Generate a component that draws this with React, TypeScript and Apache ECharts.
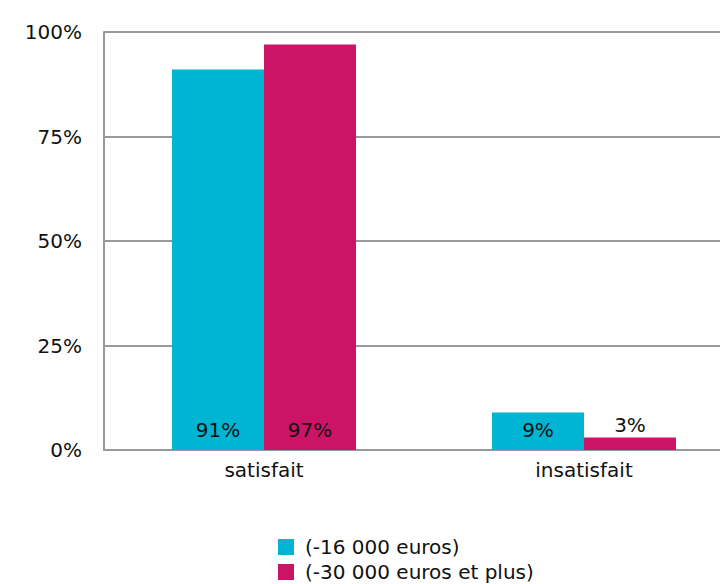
import React, { useEffect, useRef } from "react";
import * as echarts from "echarts";

const categories = ["satisfait", "insatisfait"];
const seriesNames = ["(-16 000 euros)", "(-30 000 euros et plus)"];
const lowIncome = [91, 9];
const highIncome = [97, 3];
const yTicks = [0, 25, 50, 75, 100];

const FONT = "'DejaVu Sans', sans-serif";

export default function App() {
  const ref = useRef<HTMLDivElement>(null);
  useEffect(() => {
    document.documentElement.style.overflow = "hidden";
    document.body.style.overflow = "hidden";
    document.body.style.marginRight = "0px";
    if (!ref.current) return;
    const chart = echarts.init(ref.current, undefined, { renderer: "svg" });
    const labelFor = (vals: number[], small: boolean[]) =>
      vals.map((v, i) => ({
        value: v,
        label: small[i]
          ? { position: "top", distance: 2 }
          : { position: "insideBottom", distance: 10 },
      }));
    chart.setOption({
      animation: false,
      textStyle: { fontFamily: FONT },
      grid: { left: 96, top: 24, right: 24, bottom: 134, containLabel: false },
      legend: {
        orient: "vertical",
        left: 270,
        top: 529,
        padding: 0,
        itemWidth: 16,
        itemHeight: 16,
        itemGap: 5,
        icon: "rect",
        textStyle: {
          fontSize: 20,
          color: "#111",
          fontFamily: FONT,
          padding: [0, 0, 0, 6],
        },
        data: seriesNames,
      },
      xAxis: {
        type: "category",
        data: categories,
        axisLine: { show: true, lineStyle: { color: "#999", width: 2 } },
        axisTick: { show: false },
        axisLabel: { fontSize: 20, color: "#111", margin: 10, fontFamily: FONT },
      },
      yAxis: {
        type: "value",
        min: 0,
        max: 100,
        interval: 25,
        axisLine: { show: true, lineStyle: { color: "#999", width: 2 } },
        axisTick: { show: false },
        splitLine: { show: true, lineStyle: { color: "#999", width: 2 } },
        axisLabel: {
          fontSize: 20,
          color: "#111",
          margin: 22,
          fontFamily: FONT,
          formatter: (v: number) => (yTicks.includes(v) ? v + "%" : ""),
        },
      },
      series: [
        {
          name: seriesNames[0],
          type: "bar",
          data: labelFor(lowIncome, [false, false]),
          barGap: "0%",
          barCategoryGap: "42.5%",
          itemStyle: { color: "#00B4D4" },
          label: {
            show: true,
            formatter: "{c}%",
            fontSize: 20,
            color: "#111",
            fontFamily: FONT,
          },
        },
        {
          name: seriesNames[1],
          type: "bar",
          data: labelFor(highIncome, [false, true]),
          barGap: "0%",
          barCategoryGap: "42.5%",
          itemStyle: { color: "#CC1466" },
          label: {
            show: true,
            formatter: "{c}%",
            fontSize: 20,
            color: "#111",
            fontFamily: FONT,
          },
        },
      ],
    });
    return () => chart.dispose();
  }, []);
  return (
    <div style={{ width: 760, height: 576, overflow: "hidden" }}>
      <div ref={ref} style={{ width: 760, height: 576 }} />
    </div>
  );
}
